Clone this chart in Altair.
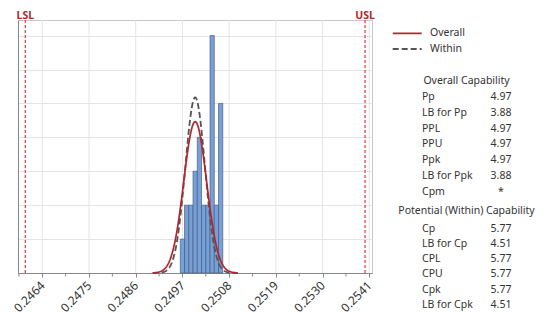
import altair as alt
import pandas as pd

# ---------------- data ----------------
LSL = 0.246
USL = 0.254
PROCESS_MEAN = 0.25          # PPL == PPU -> centred between the limits
BIN_W = 0.0001
bin_lo = [0.24965, 0.24975, 0.24985, 0.24995, 0.25005,
          0.25015, 0.25025, 0.25035, 0.25045, 0.25055]
counts = [1, 2, 2, 3, 4, 2, 2, 7, 2, 5]
major_ticks = [0.2464, 0.2475, 0.2486, 0.2497, 0.2508, 0.2519, 0.2530, 0.2541]

overall_labels = ["Pp", "LB for Pp", "PPL", "PPU", "Ppk", "LB for Ppk", "Cpm"]
overall_values = ["4.97", "3.88", "4.97", "4.97", "4.97", "3.88", "*"]
within_labels = ["Cp", "LB for Cp", "CPL", "CPU", "Cpk", "LB for Cpk"]
within_values = ["5.77", "4.51", "5.77", "5.77", "5.77", "4.51"]
PP = 4.97
CP = 5.77
series_names = ["Overall", "Within"]
spec_names = ["LSL", "USL"]
spec_values = [LSL, USL]

# ---------------- derived tables ----------------
N = sum(counts)
sd_overall = (USL - LSL) / (6 * PP)
sd_within = (USL - LSL) / (6 * CP)

FONT = "Noto Sans"
TXT = "#333333"
RED = "#b3262c"
SPEC_RED = "#e03a3a"
GREY = "#555555"
GRID = "#e4e4e4"
AXIS = "#888888"

XDOM = [0.245828, 0.254164]
YDOM = [0, 7.46]
xscale = alt.Scale(domain=XDOM, nice=False, zero=False)
yscale = alt.Scale(domain=YDOM, nice=False, zero=True)

hist = pd.DataFrame({"lo": bin_lo, "count": counts})
hist["hi"] = hist["lo"] + BIN_W
hist["base"] = 0

minor = [round(t - 0.00055, 5) for t in major_ticks if t - 0.00055 > XDOM[0]]
minor_df = pd.DataFrame({"t": minor})

grid_df = pd.DataFrame({"t": major_ticks})
spec_df = pd.DataFrame({"name": spec_names, "v": spec_values})
legend_df = pd.DataFrame({"series": series_names, "row": [0, 1]})

rows = []
rows.append({"kind": "h", "label": "Overall Capability", "value": "", "row": 0.0})
for i, (l, v) in enumerate(zip(overall_labels, overall_values)):
    rows.append({"kind": "i", "label": l, "value": v, "row": 1.0 + i})
rows.append({"kind": "h", "label": "Potential (Within) Capability", "value": "", "row": 8.2})
for i, (l, v) in enumerate(zip(within_labels, within_values)):
    rows.append({"kind": "i", "label": l, "value": v, "row": 9.35 + 0.95 * i})
table = pd.DataFrame(rows)
row_scale = alt.Scale(domain=[0, 10], range=[61, 219.6])
legend_scale = alt.Scale(domain=[0, 1], range=[13.3, 29])

# ---------------- layers ----------------
xaxis = alt.Axis(values=major_ticks, format=".4f", title=None, grid=False,
                 labelAngle=-45, labelFontSize=12, labelColor=TXT,
                 labelFont=FONT, tickSize=4, tickColor=AXIS,
                 domainColor=AXIS, labelPadding=6, labelAlign="right",
                 labelBaseline="middle",
                 labelOverlap=False, labelFlush=False)

vgrid = alt.Chart(grid_df).mark_rule(color=GRID, strokeWidth=1).encode(
    x=alt.X("t:Q", scale=xscale, axis=xaxis))

minor_ticks = alt.Chart(minor_df).mark_rule(color=AXIS, strokeWidth=1).encode(
    x=alt.X("t:Q", scale=xscale, axis=xaxis),
    y=alt.value(253), y2=alt.value(256.5))

bars = alt.Chart(hist).mark_rect(color="#75a0d8", stroke="#4a5c7c",
                                 strokeWidth=0.7, opacity=1).encode(
    x=alt.X("lo:Q", scale=xscale, axis=xaxis),
    x2="hi:Q",
    y=alt.Y("count:Q", scale=yscale,
            axis=alt.Axis(values=[1, 2, 3, 4, 5, 6, 7], labels=False, ticks=False,
                          title=None, grid=True, gridColor=GRID,
                          domainColor=AXIS)),
    y2="base:Q",
)

curve_base = alt.Chart(alt.sequence(0, 201, 1, as_="i")).transform_calculate(
    x=f"0.249 + datum.i*0.00001",
    Overall=f"densityNormal(datum.x, {PROCESS_MEAN}, {sd_overall})*{N * BIN_W}",
    Within=f"densityNormal(datum.x, {PROCESS_MEAN}, {sd_within})*{N * BIN_W}",
).transform_fold(series_names, as_=["series", "dens"])

color_scale = alt.Scale(domain=series_names, range=[RED, GREY])
dash_scale = alt.Scale(domain=series_names, range=[[1, 0], [6, 3]])
width_scale = alt.Scale(domain=series_names, range=[1.7, 1.8])


def curve(name):
    return curve_base.transform_filter(alt.datum.series == name).mark_line().encode(
        x=alt.X("x:Q", scale=xscale, axis=xaxis),
        y=alt.Y("dens:Q", scale=yscale, axis=None),
        color=alt.Color("series:N", scale=color_scale, legend=None),
        strokeDash=alt.StrokeDash("series:N", scale=dash_scale, legend=None),
        strokeWidth=alt.StrokeWidth("series:N", scale=width_scale, legend=None),
    )


within_line = curve("Within")
overall_line = curve("Overall")

# legend (drawn by hand so the rows sit as in the reference)
leg_lines = alt.Chart(legend_df).mark_rule().encode(
    x=alt.value(374.7), x2=alt.value(403.7),
    y=alt.Y("row:Q", scale=legend_scale, axis=None),
    color=alt.Color("series:N", scale=color_scale, legend=None),
    strokeDash=alt.StrokeDash("series:N", scale=dash_scale, legend=None),
    strokeWidth=alt.StrokeWidth("series:N", scale=width_scale, legend=None),
)
leg_text = alt.Chart(legend_df).mark_text(
    font=FONT, fontSize=10.5, color=TXT, align="left", baseline="middle").encode(
    x=alt.value(412), y=alt.Y("row:Q", scale=legend_scale, axis=None),
    text="series:N")

spec_rules = alt.Chart(spec_df).mark_rule(color=SPEC_RED, strokeDash=[3, 2],
                                          strokeWidth=1.2).encode(
    x=alt.X("v:Q", scale=xscale, axis=xaxis))
spec_text = alt.Chart(spec_df).mark_text(color=RED, font=FONT, fontSize=10.5,
                                         fontWeight="bold", baseline="alphabetic",
                                         align="center").encode(
    x=alt.X("v:Q", scale=xscale, axis=xaxis), y=alt.value(-1.3), text="name:N")

tbl_y = alt.Y("row:Q", scale=row_scale, axis=None)
headers = alt.Chart(table).transform_filter(alt.datum.kind == "h").mark_text(
    font=FONT, fontSize=10.5, color=TXT, align="center", baseline="middle").encode(
    x=alt.value(448.5), y=tbl_y, text="label:N")
labels = alt.Chart(table).transform_filter(alt.datum.kind == "i").mark_text(
    font=FONT, fontSize=10.5, color=TXT, align="left", baseline="middle").encode(
    x=alt.value(404), y=tbl_y, text="label:N")
values = alt.Chart(table).transform_filter(alt.datum.kind == "i").mark_text(
    font=FONT, fontSize=10.5, color=TXT, align="center", baseline="middle").encode(
    x=alt.value(483), y=tbl_y, text="value:N")

chart = alt.layer(
    vgrid, bars, within_line, overall_line, spec_rules, minor_ticks, spec_text,
    leg_lines, leg_text, headers, labels, values,
).resolve_scale(y="independent").properties(
    width=354, height=253,
    padding={"left": 10, "top": 12, "right": 166, "bottom": 40},
    autosize=alt.AutoSizeParams(type="none"),
    background="white",
).configure_view(stroke="#c8c8c8")

chart.save("out.html", embed_options={"renderer": "svg", "actions": False})
